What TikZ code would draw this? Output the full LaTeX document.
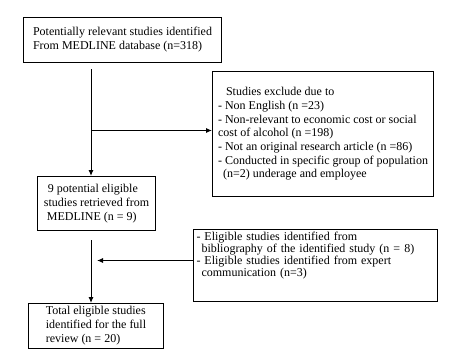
\documentclass[tikz,border=0pt]{standalone}
\usepackage{fontspec}
\setmainfont{Liberation Serif}
\definecolor{flowline}{HTML}{000000}
\usetikzlibrary{arrows.meta}

\begin{document}
\begin{tikzpicture}[
  x=1pt,y=-1pt,
  line join=miter,
  stage/.style={draw=flowline,line width=1pt,anchor=north west,align=left,inner sep=3pt,font=\fontsize{12}{14}\selectfont},
  flow/.style={draw=flowline,line width=1pt,-{Latex[length=6pt,width=5pt]}}
]
  \useasboundingbox[fill=white] (0,0) rectangle (457,353);

  \node[stage,minimum width=198pt,minimum height=45pt] (found) at (23,17)
    {Potentially relevant studies identified\\From MEDLINE database (n=318)};
  \node[stage,minimum width=221pt,minimum height=125pt,
        font=\fontsize{12}{13.7}\selectfont] (exclude) at (212,71)
    {\hspace{8pt}Studies exclude due to\\
     - Non English (n =23)\\
     - Non-relevant to economic cost or social\\
     cost of alcohol (n =198)\\
     - Not an original research article (n =86)\\
     - Conducted in specific group of population\\
     \hspace{5pt}(n=2) underage and employee};
  \node[stage,minimum width=118pt,minimum height=54pt] (medline) at (37,176)
    {\hspace{4pt}9 potential eligible\\studies retrieved from\\\hspace{3pt}MEDLINE (n = 9)};
  \node[stage,minimum width=244pt,minimum height=72pt,text width=238pt,inner ysep=1pt,
        font=\fontsize{12}{12}\selectfont] (extra) at (193,229)
    {- Eligible studies identified from\\
     \hspace{5pt}bibliography of the identified study (n = 8)\\
     - Eligible studies identified from expert\\
     \hspace{5pt}communication (n=3)\\[10pt]\mbox{}};
  \node[stage,minimum width=135pt,minimum height=45pt] (total) at (28,303)
    {Total eligible studies\\identified for the full\\review (n = 20)};

  \coordinate (spine) at (91,0);
  \coordinate (exclin) at ([yshift=3.5pt]exclude.west);
  \coordinate (extraout) at ([yshift=5pt]extra.west);

  \draw[flow,shorten <=6pt] (found.south -| spine) -- (medline.north -| spine);
  \draw[flow] (exclin -| spine) -- (exclin);
  \draw[flow,shorten <=9pt] (medline.south -| spine) -- (total.north -| spine);
  \draw[flow,shorten >=6pt] (extraout) -- (extraout -| spine);
\end{tikzpicture}
\end{document}
